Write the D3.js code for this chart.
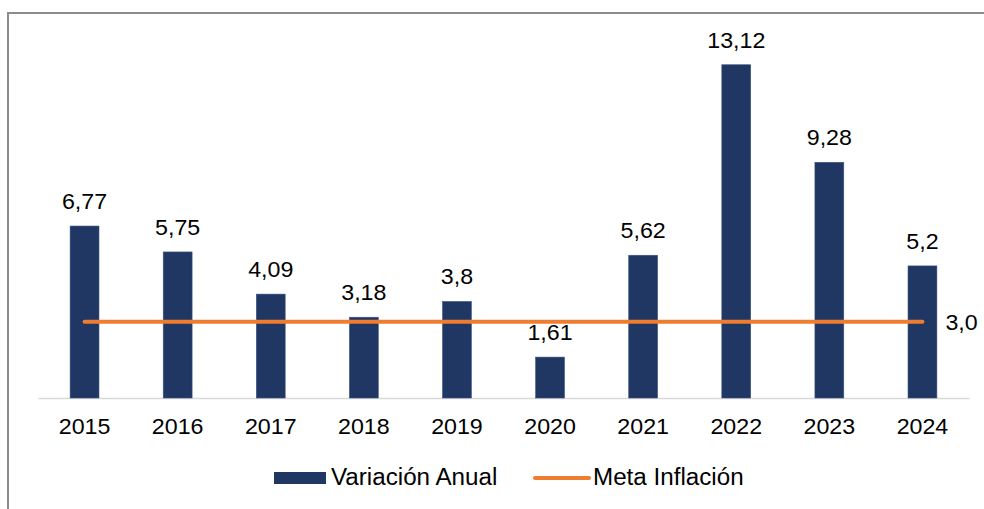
<!DOCTYPE html>
<html>
<head>
<meta charset="utf-8">
<script src="https://cdn.jsdelivr.net/npm/d3@7"></script>
<style>
  html, body { margin: 0; padding: 0; background: #fff; }
  svg { display: block; font-family: "Liberation Sans", Arial, sans-serif; }
</style>
</head>
<body>
<svg id="chart" width="984" height="509"></svg>
<script>
const categories = ["2015","2016","2017","2018","2019","2020","2021","2022","2023","2024"];
const variacionAnual = [6.77, 5.75, 4.09, 3.18, 3.8, 1.61, 5.62, 13.12, 9.28, 5.2];
const valueLabels = ["6,77","5,75","4,09","3,18","3,8","1,61","5,62","13,12","9,28","5,2"];
const metaInflacion = [3.0, 3.0, 3.0, 3.0, 3.0, 3.0, 3.0, 3.0, 3.0, 3.0];
const metaLabel = "3,0";
const seriesNames = ["Variación Anual", "Meta Inflación"];

const svg = d3.select("#chart");
const barColor = "#203764";
const lineColor = "#ED7D31";
const labelSize = 21.5;
const legendSize = 23.5;
const stretch = 1.08;

// frame (partial border as in the source image)
svg.append("line").attr("x1", 8).attr("x2", 8).attr("y1", 12).attr("y2", 509)
  .attr("stroke", "#8c8c8c").attr("stroke-width", 2);
svg.append("line").attr("x1", 8).attr("x2", 984).attr("y1", 13).attr("y2", 13)
  .attr("stroke", "#8c8c8c").attr("stroke-width", 2);

const x = d3.scaleBand().domain(categories).range([38, 969]).paddingInner(0.69).paddingOuter(0.345);
const y = d3.scaleLinear().domain([0, 15]).range([398, 17]);

// axis
const xAxis = d3.axisBottom(x).tickSize(0).tickPadding(0);
const gx = svg.append("g").attr("transform", "translate(0,398)").call(xAxis);
gx.select(".domain").attr("stroke", "#d9d9d9").attr("stroke-width", 1.5);
gx.selectAll("text").attr("font-size", labelSize).attr("fill", "#000")
  .attr("font-family", "Liberation Sans, Arial, sans-serif")
  .attr("dy", null).attr("y", 0)
  .attr("transform", `translate(0,36) scale(${stretch},1)`);

// bars
svg.append("g").selectAll("rect").data(categories).join("rect")
  .attr("x", d => x(d))
  .attr("y", (d, i) => y(variacionAnual[i]))
  .attr("width", x.bandwidth())
  .attr("height", (d, i) => y(0) - y(variacionAnual[i]))
  .attr("fill", barColor)
  .attr("stroke", "#3a5282").attr("stroke-width", 0.6);

// bar labels
svg.append("g").selectAll("text").data(categories).join("text")
  .attr("transform", (d, i) => `translate(${x(d) + x.bandwidth() / 2},${y(variacionAnual[i]) - 17}) scale(${stretch},1)`)
  .attr("text-anchor", "middle")
  .attr("font-size", labelSize).attr("fill", "#000")
  .text((d, i) => valueLabels[i]);

// meta line
const line = d3.line()
  .x((d, i) => x(categories[i]) + x.bandwidth() / 2)
  .y(d => y(d));
svg.append("path").datum(metaInflacion)
  .attr("d", line).attr("fill", "none")
  .attr("stroke", lineColor).attr("stroke-width", 4).attr("stroke-linecap", "round");

const lastX = x(categories[categories.length - 1]) + x.bandwidth() / 2;
svg.append("text")
  .attr("transform", `translate(${lastX + 23},${y(metaInflacion[metaInflacion.length - 1]) + 8}) scale(${stretch},1)`)
  .attr("font-size", labelSize).attr("fill", "#000")
  .text(metaLabel);

// legend
const lg = svg.append("g");
lg.append("rect").attr("x", 274).attr("y", 472).attr("width", 52).attr("height", 12).attr("fill", barColor);
lg.append("text").attr("transform", "translate(331,485) scale(1.03,1)").attr("font-size", legendSize).attr("fill", "#000").text(seriesNames[0]);
lg.append("line").attr("x1", 535).attr("x2", 589).attr("y1", 478).attr("y2", 478)
  .attr("stroke", lineColor).attr("stroke-width", 4).attr("stroke-linecap", "round");
lg.append("text").attr("transform", "translate(593,485) scale(1.03,1)").attr("font-size", legendSize).attr("fill", "#000").text(seriesNames[1]);
</script>
</body>
</html>
